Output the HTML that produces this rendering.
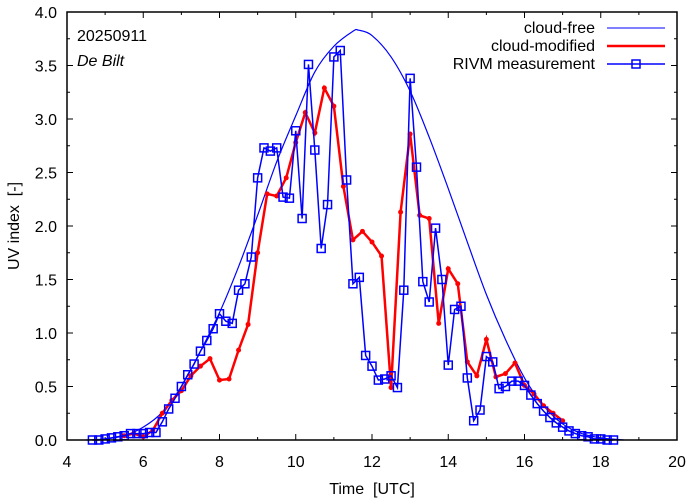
<!DOCTYPE html>
<html><head><meta charset="utf-8"><style>
body{margin:0;background:#fff}
svg{display:block;font-family:"Liberation Sans",sans-serif}
</style></head><body>
<svg id="chart" width="694" height="501" xmlns="http://www.w3.org/2000/svg">
<g id="grid"></g>
<g id="series"></g>
<rect x="67" y="12" width="610" height="428" fill="none" stroke="#000" stroke-width="1.5"/>
<text x="77" y="41" font-size="16">20250911</text>
<text x="77" y="66" font-size="16" font-style="italic">De Bilt</text>
<text x="372" y="494" font-size="16" text-anchor="middle">Time&#160; [UTC]</text>
<text transform="translate(19,226) rotate(-90)" font-size="16" text-anchor="middle">UV index&#160; [-]</text>
<g>
<g><text x="595" y="33" font-size="16" text-anchor="end">cloud-free</text><line x1="607" y1="28" x2="665" y2="28" stroke="#00f" stroke-width="1"/></g>
<g><text x="595" y="51" font-size="16" text-anchor="end">cloud-modified</text><line x1="607" y1="46" x2="665" y2="46" stroke="#f00" stroke-width="2.5"/></g>
<g><text x="595" y="69" font-size="16" text-anchor="end">RIVM measurement</text><line x1="607" y1="64" x2="665" y2="64" stroke="#00f" stroke-width="1.5"/><rect x="632" y="60" width="8" height="8" fill="none" stroke="#00f" stroke-width="1.5"/></g>
</g>
</svg>
<script>
const xTicks=[4,6,8,10,12,14,16,18,20];
const yTicks=[0.0,0.5,1.0,1.5,2.0,2.5,3.0,3.5,4.0];
const clearT=[4.5,5,5.5,6,6.5,7,7.5,8,8.5,9,9.5,10,10.5,11,11.5,11.65,12,12.5,13,13.5,14,14.5,15,15.5,16,16.5,17,17.5,18,18.6];
const clearV=[0,0.01,0.04,0.12,0.26,0.5,0.83,1.19,1.62,2.1,2.6,3.03,3.44,3.68,3.82,3.83,3.78,3.58,3.26,2.83,2.35,1.85,1.36,0.94,0.58,0.32,0.15,0.06,0.02,0];
const cloudT=[5.5,5.75,6,6.25,6.5,6.75,7,7.25,7.5,7.75,8,8.25,8.5,8.75,9,9.25,9.5,9.75,10,10.25,10.5,10.75,11,11.25,11.5,11.75,12,12.25,12.5,12.75,13,13.25,13.5,13.75,14,14.25,14.5,14.75,15,15.25,15.5,15.75,16,16.25,16.5,16.75,17];
const cloudV=[0.04,0.06,0.03,0.09,0.25,0.37,0.46,0.6,0.69,0.76,0.56,0.57,0.84,1.08,1.75,2.3,2.28,2.45,2.78,3.06,2.87,3.29,3.12,2.37,1.87,1.95,1.85,1.72,0.49,2.13,2.86,2.1,2.07,1.09,1.6,1.46,0.73,0.6,0.94,0.59,0.62,0.72,0.51,0.43,0.32,0.25,0.18];
const measStart=4.667, measStep=1/6;
const measV=[0,0,0.01,0.02,0.03,0.04,0.06,0.06,0.06,0.07,0.07,0.17,0.29,0.39,0.5,0.61,0.71,0.83,0.93,1.04,1.18,1.11,1.09,1.4,1.46,1.71,2.45,2.73,2.7,2.73,2.27,2.26,2.89,2.07,3.51,2.71,1.79,2.2,3.58,3.64,2.43,1.46,1.52,0.79,0.69,0.56,0.57,0.6,0.49,1.4,3.38,2.55,1.48,1.29,1.98,1.5,0.7,1.22,1.25,0.58,0.18,0.28,0.78,0.73,0.48,0.5,0.55,0.55,0.51,0.42,0.34,0.27,0.21,0.16,0.12,0.085,0.06,0.04,0.03,0.01,0.01,0,0];
const X=t=>67+(t-4)*610/16, Y=v=>440-v*107;
const NS='http://www.w3.org/2000/svg';
const grid=document.getElementById('grid'), ser=document.getElementById('series');
function mk(tag,attrs,parent){const e=document.createElementNS(NS,tag);for(const k in attrs)e.setAttribute(k,attrs[k]);parent.appendChild(e);return e;}
for(let t=4;t<=20;t++){
  const maj=t%2===0, L=maj?6:3;
  const a=mk('line',{x1:X(t),x2:X(t),y1:440,y2:440-L,stroke:'#000'},grid);
  
  
  const b=mk('line',{x1:X(t),x2:X(t),y1:12,y2:12+L,stroke:'#000'},grid);
  
  
}
xTicks.forEach(t=>{const e=mk('text',{x:X(t),y:467,'font-size':16,'text-anchor':'middle'},grid);e.textContent=t;
  
  });
for(let i=0;i<=16;i++){const v=i*0.25,L=i%2===0?6:3;
  const a=mk('line',{x1:67,x2:67+L,y1:Y(v),y2:Y(v),stroke:'#000'},grid);
  
  
  const b=mk('line',{x1:677,x2:677-L,y1:Y(v),y2:Y(v),stroke:'#000'},grid);
  
  }
yTicks.forEach(v=>{const e=mk('text',{x:57,y:Y(v)+6,'font-size':16,'text-anchor':'end'},grid);e.textContent=v.toFixed(1);
  
  });
let d='M'+X(clearT[0])+','+Y(clearV[0]);
for(let i=0;i<clearT.length-1;i++){
  const p0=[X(clearT[Math.max(0,i-1)]),Y(clearV[Math.max(0,i-1)])],p1=[X(clearT[i]),Y(clearV[i])],p2=[X(clearT[i+1]),Y(clearV[i+1])],p3=[X(clearT[Math.min(clearT.length-1,i+2)]),Y(clearV[Math.min(clearT.length-1,i+2)])];
  d+=' C'+(p1[0]+(p2[0]-p0[0])/6)+','+(p1[1]+(p2[1]-p0[1])/6)+' '+(p2[0]-(p3[0]-p1[0])/6)+','+(p2[1]-(p3[1]-p1[1])/6)+' '+p2[0]+','+p2[1];
}
const cf=mk('path',{d:d,fill:'none',stroke:'#00f','stroke-width':1.2},ser);


const cm=mk('polyline',{points:cloudT.map((t,i)=>X(t)+','+Y(cloudV[i])).join(' '),fill:'none',stroke:'#f00','stroke-width':2.5},ser);


cloudT.forEach((t,i)=>{const c=mk('circle',{cx:X(t),cy:Y(cloudV[i]),r:2.5,fill:'#f00'},ser);
  
  });
const mT=measV.map((v,i)=>measStart+i*measStep);
const ml=mk('polyline',{points:mT.map((t,i)=>X(t)+','+Y(measV[i])).join(' '),fill:'none',stroke:'#00f','stroke-width':1.5},ser);


mT.forEach((t,i)=>{const r=mk('rect',{x:X(t)-4,y:Y(measV[i])-4,width:8,height:8,fill:'none',stroke:'#00f','stroke-width':1.5},ser);
  
  });
</script>
</body></html>
